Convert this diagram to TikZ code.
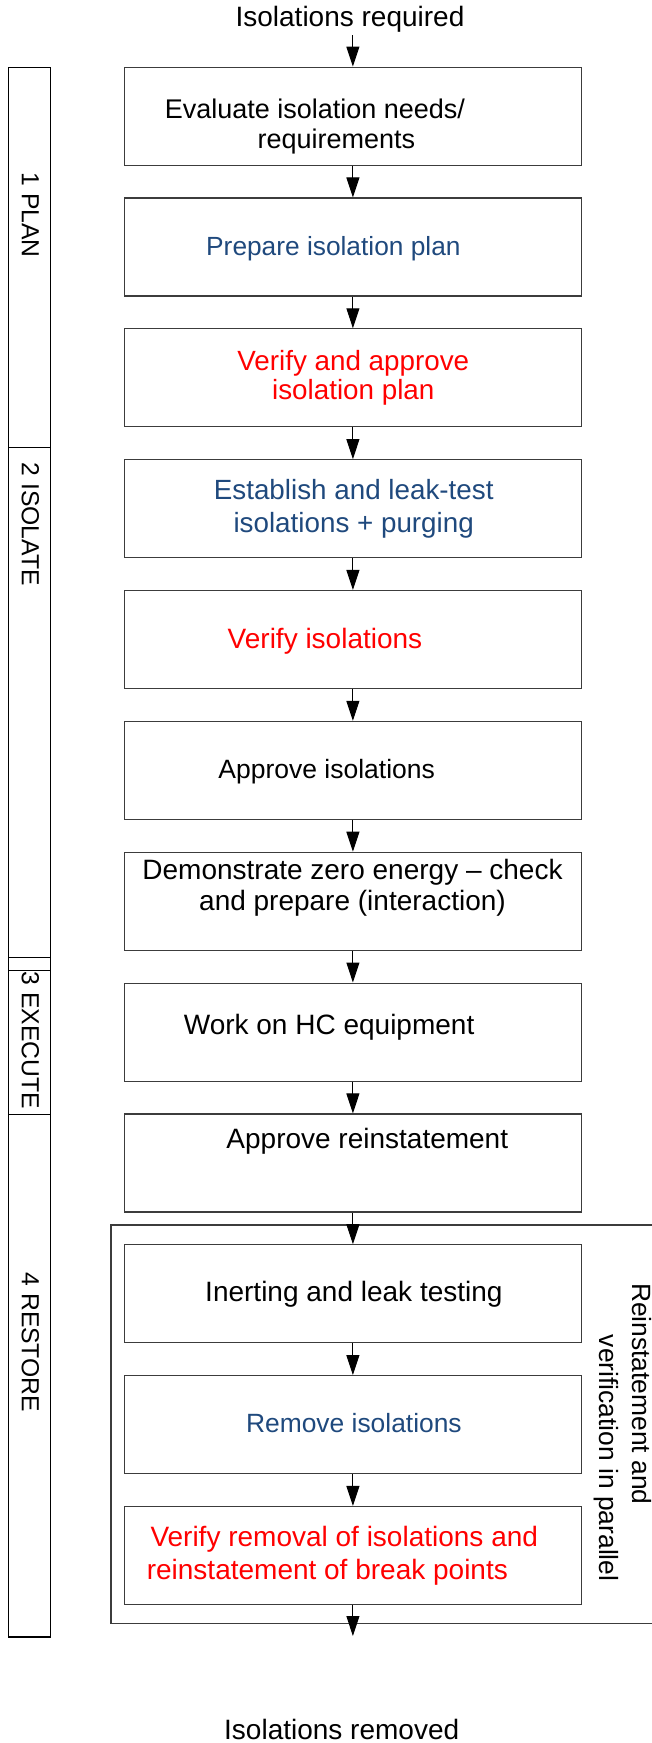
\documentclass[tikz,border=0pt]{standalone}
\usepackage{fontspec}
\setmainfont{Liberation Sans}
\usetikzlibrary{arrows.meta}
\definecolor{stepblue}{RGB}{31,73,125}
\definecolor{stepred}{RGB}{255,0,0}
\definecolor{edgegray}{RGB}{60,60,60}
\newcommand{\fsz}[2]{\fontsize{#1pt}{#2pt}\selectfont}
\begin{document}
\begin{tikzpicture}[x=1pt,y=-1pt,
  box/.style={draw=edgegray, line width=1.2pt, minimum width=457pt, minimum height=98pt, inner sep=0pt},
  txt/.style={inner sep=0pt, font=\fsz{28}{30}},
  flow/.style={draw=black, line width=1pt, -{Triangle[length=20pt,width=13pt]}},
  phasebox/.style={draw=black, line width=1.2pt},
  phaselab/.style={inner sep=0pt, rotate=-90, font=\fsz{24.7}{30}},
  sidelab/.style={inner sep=0pt, rotate=-90, anchor=base west, font=\fsz{26.4}{32}},
  container/.style={draw=edgegray, line width=1.1pt},
]
\useasboundingbox (0,0) rectangle (652,1743);
\clip (0,0) rectangle (652,1743);

% phase column
\draw[phasebox] (8.3,67.3) rectangle (50.3,447.7);
\draw[phasebox] (8.3,447.7) rectangle (50.3,957.3);
\draw[phasebox] (8.3,957.3) rectangle (50.3,970.3);
\draw[phasebox] (8.3,970.3) rectangle (50.3,1114.3);
\draw[phasebox] (8.3,1114.3) rectangle (50.3,1637);
\node[phaselab] (ph1) at (30.3,215) {1 PLAN};
\node[phaselab] (ph2) at (30.3,524.2) {2 ISOLATE};
\node[phaselab] (ph3) at (30.3,1040.3) {3 EXECUTE};
\node[phaselab] (ph4) at (30.3,1342.4) {4 RESTORE};

% parallel container (runs off the right edge)
\draw[container] (660,1225) -- (111,1225) -- (111,1623.3) -- (660,1623.3);
\node[sidelab] (side1) at (632.8,1282.8) {Reinstatement and};
\node[sidelab] (side2) at (599.5,1334.7) {verification in parallel};

% boxes
\node[box] (b1) at (352.9,116.15) {};
\node[box] (b2) at (352.9,247.0) {};
\node[box] (b3) at (352.9,377.85) {};
\node[box] (b4) at (352.9,508.7) {};
\node[box] (b5) at (352.9,639.55) {};
\node[box] (b6) at (352.9,770.4) {};
\node[box] (b7) at (352.9,901.25) {};
\node[box] (b8) at (352.9,1032.1) {};
\node[box] (b9) at (352.9,1162.95) {};
\node[box] (b10) at (352.9,1293.8) {};
\node[box] (b11) at (352.9,1424.65) {};
\node[box] (b12) at (352.9,1555.5) {};

% texts
\node[txt, anchor=base] (startlabel) at (350,26.7) {Isolations required};
\node[txt, anchor=west, align=left, font=\fsz{27}{30}] (t1) at (164.6,127.3)
  {\strut Evaluate isolation needs/\\\hspace*{92.9pt}\strut requirements};
\node[txt, anchor=base, font=\fsz{26.3}{30}, text=stepblue] (t2) at (333.4,255) {Prepare isolation plan};
\node[txt, align=center, font=\fsz{27.8}{29}, text=stepred] (t3) at (353.3,378.7)
  {\strut Verify and approve\\\strut isolation plan};
\node[txt, align=center, font=\fsz{27.8}{32.7}, text=stepblue] (t4) at (353.7,509.8)
  {\strut Establish and leak-test\\\strut isolations + purging};
\node[txt, anchor=base, text=stepred] (t5) at (325,648.3) {Verify isolations};
\node[txt, anchor=base, font=\fsz{26.5}{30}] (t6) at (326.7,778.3) {Approve isolations};
\node[txt, align=center, font=\fsz{28}{30.7}] (t7) at (352.5,888.5)
  {\strut Demonstrate zero energy – check\\\strut and prepare (interaction)};
\node[txt, anchor=base] (t8) at (329.1,1034) {Work on HC equipment};
\node[txt, anchor=base] (t9) at (367.3,1148.3) {Approve reinstatement};
\node[txt, anchor=base] (t10) at (353.9,1301.7) {Inerting and leak testing};
\node[txt, anchor=base, font=\fsz{26.4}{30}, text=stepblue] (t11) at (353.9,1432.7) {Remove isolations};
\node[txt, anchor=west, align=left, font=\fsz{28}{32.6}, text=stepred] (t12) at (146.6,1556.5)
  {\strut\hspace*{3.7pt}Verify removal of isolations and\\\strut reinstatement of break points};
\node[txt, anchor=base] (endlabel) at (341.7,1739.5) {Isolations removed};

% connectors
\coordinate (start) at (352.9,35);
\coordinate (end) at (352.9,1636);
\draw[flow] (start) -- (b1.north);
\foreach \i [evaluate=\i as \j using int(\i+1)] in {1,...,11}
  \draw[flow] (b\i.south) -- (b\j.north);
\draw[flow] (b12.south) -- (end);
\end{tikzpicture}
\end{document}
